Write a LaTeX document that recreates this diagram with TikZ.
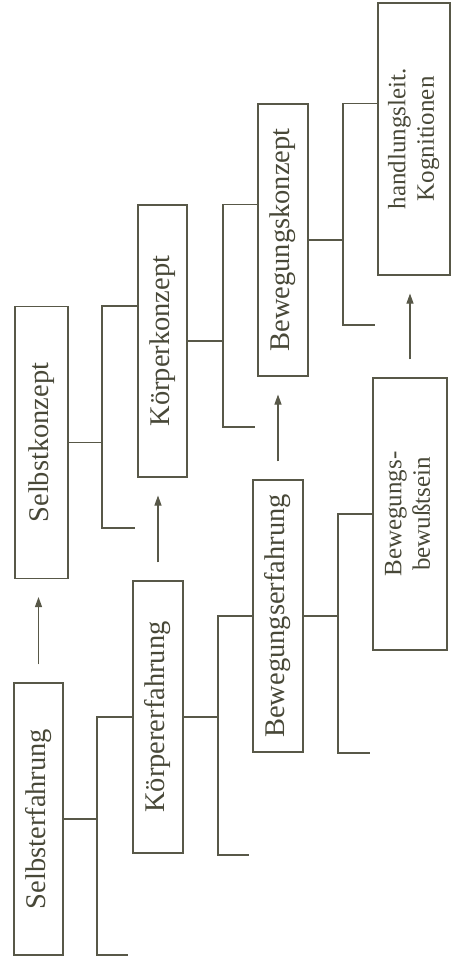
\documentclass[tikz,border=0pt]{standalone}
\usepackage{fontspec}
\setmainfont{Liberation Serif}
\usetikzlibrary{arrows.meta}
\definecolor{ink}{RGB}{88,88,72}
\definecolor{txt}{RGB}{72,72,56}
\begin{document}
\begin{tikzpicture}[x=1pt,y=-1pt,
  box/.style={draw=ink,line width=1.1pt,inner sep=0pt,minimum height=272pt,text=txt,font=\fontsize{28.5}{31}\selectfont},
  wbox/.style={box,font=\fontsize{25}{28.5}\selectfont},
  ln/.style={draw=ink,line width=1.1pt},
  arr/.style={ln,-{Triangle[length=10pt,width=7pt]},shorten <=18pt,shorten >=18pt}]
\useasboundingbox (0,0) rectangle (451,958);
% boxes
\node[box,minimum width=49pt] (se) at (38.5,819) {\rotatebox{90}{Selbsterfahrung}};
\node[box,minimum width=53pt] (sk) at (41.5,442.5) {\rotatebox{90}{Selbstkonzept}};
\node[box,minimum width=50pt] (ke) at (158,717) {\rotatebox{90}{Körpererfahrung}};
\node[box,minimum width=49pt] (kk) at (162.5,341) {\rotatebox{90}{Körperkonzept}};
\node[box,minimum width=50pt] (be) at (278,616) {\rotatebox{90}{Bewegungserfahrung}};
\node[box,minimum width=50pt] (bk) at (283,240) {\rotatebox{90}{Bewegungskonzept}};
\node[wbox,minimum width=74pt] (bb) at (410,514) {\rotatebox{90}{\begin{tabular}{@{}c@{}}Bewegungs-\\bewußtsein\end{tabular}}};
\node[wbox,minimum width=72pt] (hk) at (414,139) {\rotatebox{90}{\begin{tabular}{@{}c@{}}handlungsleit.\\Kognitionen\end{tabular}}};
% open ends
\coordinate (se-end) at (128,955);
\coordinate (sk-end) at (135,528);
\coordinate (ke-end) at (249,855);
\coordinate (kk-end) at (255,427);
\coordinate (be-end) at (370,753);
\coordinate (bk-end) at (375,325);
% brackets
\draw[ln] (se.east) -- (97,819);
\draw[ln] (ke.west) -| (97,955) -- (se-end);
\draw[ln] (sk.east) -- (102,442.5);
\draw[ln] (kk.west |- sk.north) -| (102,528) -- (sk-end);
\draw[ln] (ke.east) -- (218,717);
\draw[ln] (be.west) -| (218,855) -- (ke-end);
\draw[ln] (kk.east) -- (223,341);
\draw[ln] (bk.west |- kk.north) -| (223,427) -- (kk-end);
\draw[ln] (be.east) -- (338,616);
\draw[ln] (bb.west) -| (338,753) -- (be-end);
\draw[ln] (bk.east) -- (343,240);
\draw[ln] (hk.west |- bk.north) -| (343,325) -- (bk-end);
% arrows
\draw[arr] (se.north) -- (se.north |- sk.south);
\draw[arr] (ke.north) -- (ke.north |- kk.south);
\draw[arr] (be.north) -- (be.north |- bk.south);
\draw[arr] (bb.north) -- (bb.north |- hk.south);
\end{tikzpicture}
\end{document}
